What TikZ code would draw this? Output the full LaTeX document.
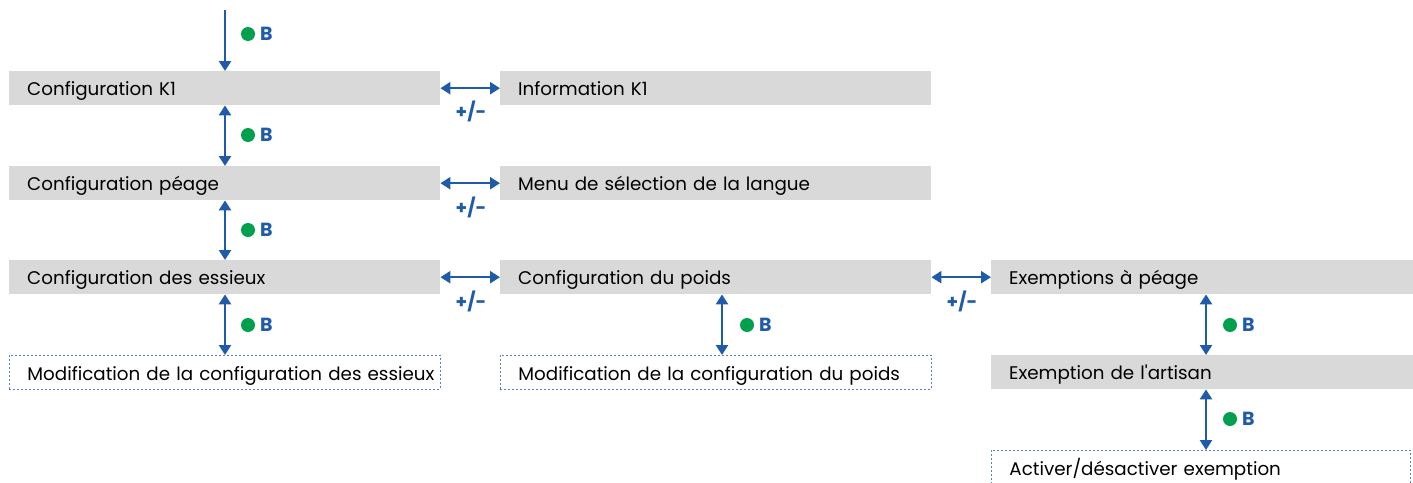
\documentclass[tikz,border=0pt]{standalone}
\usepackage{fontspec}
\setmainfont{Poppins}[Ligatures=TeXOff]
\usetikzlibrary{arrows.meta}
\definecolor{arrowblue}{HTML}{1F5BA8}
\definecolor{boxgray}{HTML}{D9D9D9}
\definecolor{dotgreen}{HTML}{00A04F}
\definecolor{dashblue}{HTML}{5B7FBF}
\tikzset{
  menubox/.style={fill=boxgray, anchor=north west, minimum height=34pt, inner xsep=0pt, inner ysep=0pt, align=left, font=\fontsize{18.3}{20}\selectfont, text height=17pt, text depth=1.6pt, execute at begin node=\hspace*{18pt}},
  subbox/.style={menubox, fill=none, draw=dashblue, line width=0.9pt, dash pattern=on 2pt off 2pt},
  wide/.style={text width=431pt},
  arr/.style={draw=arrowblue, line width=2.4pt, -{Triangle[length=10pt,width=12pt]}},
  dbl/.style={draw=arrowblue, line width=2.4pt, {Triangle[length=10pt,width=12pt]}-{Triangle[length=10pt,width=12pt]}},
  keyB/.style={text=arrowblue, font=\bfseries\fontsize{19}{20}\selectfont, inner sep=0pt, anchor=west},
  dot/.style={circle, fill=dotgreen, minimum size=14pt, inner sep=0pt},
  pm/.style={text=arrowblue, font=\bfseries\fontsize{18.5}{20}\selectfont, inner sep=0pt},
}
\begin{document}
\begin{tikzpicture}[x=1pt, y=-1pt]
\useasboundingbox (0,0) rectangle (1413,482);
\clip (0,0) rectangle (1413,482);

% column 1
\node[menubox, wide] (k1) at (9,71) {Configuration K1};
\node[menubox, wide] (peage) at (9,166) {Configuration péage};
\node[menubox, wide] (essieux) at (9,260) {Configuration des essieux};
\node[subbox, wide] (modess) at (9,355) {Modification de la configuration des essieux};

% column 2
\node[menubox, wide] (info) at (500,71) {Information K1};
\node[menubox, wide] (langue) at (500,166) {Menu de sélection de la langue};
\node[menubox, wide] (poids) at (500,260) {Configuration du poids};
\node[subbox, wide] (modpoids) at (500,355) {Modification de la configuration du poids};

% column 3
\node[menubox, text width=424pt] (exempt) at (991,260) {Exemptions à péage};
\node[menubox, text width=424pt] (artisan) at (991,355) {Exemption de l'artisan};
\node[subbox, text width=419pt] (activer) at (991,450) {Activer/désactiver exemption};

% top arrow
\coordinate (top) at (225,10);
\draw[arr] (top) -- (top |- k1.north);
\node[dot] (d0) at (248,34) {};
\node[keyB] (b0) at (260,34) {B};

% vertical connections column 1
\draw[dbl] ([xshift=216pt]k1.south west) -- ([xshift=216pt]peage.north west);
\node[dot] (d1) at (248,135) {};
\node[keyB] (b1) at (260,135) {B};
\draw[dbl] ([xshift=216pt]peage.south west) -- ([xshift=216pt]essieux.north west);
\node[dot] (d2) at (248,230) {};
\node[keyB] (b2) at (260,230) {B};
\draw[dbl] ([xshift=216pt]essieux.south west) -- ([xshift=216pt]modess.north west);
\node[dot] (d3) at (248,325) {};
\node[keyB] (b3) at (260,325) {B};

% vertical connection column 2
\draw[dbl] ([xshift=222pt]poids.south west) -- ([xshift=222pt]modpoids.north west);
\node[dot] (d4) at (747,325) {};
\node[keyB] (b4) at (759,325) {B};

% vertical connections column 3
\draw[dbl] ([xshift=215pt]exempt.south west) -- ([xshift=215pt]artisan.north west);
\node[dot] (d5) at (1230,325) {};
\node[keyB] (b5) at (1242,325) {B};
\draw[dbl] ([xshift=215pt]artisan.south west) -- ([xshift=215pt]activer.north west);
\node[dot] (d6) at (1230,419) {};
\node[keyB] (b6) at (1242,419) {B};

% horizontal connections
\draw[dbl] (k1.east) -- (info.west);
\node[pm] (p1) at (471,111) {+/-};
\draw[dbl] (peage.east) -- (langue.west);
\node[pm] (p2) at (471,207) {+/-};
\draw[dbl] (essieux.east) -- (poids.west);
\node[pm] (p3) at (471,301) {+/-};
\draw[dbl] (poids.east) -- (exempt.west);
\node[pm] (p4) at (962,301) {+/-};
\end{tikzpicture}
\end{document}
